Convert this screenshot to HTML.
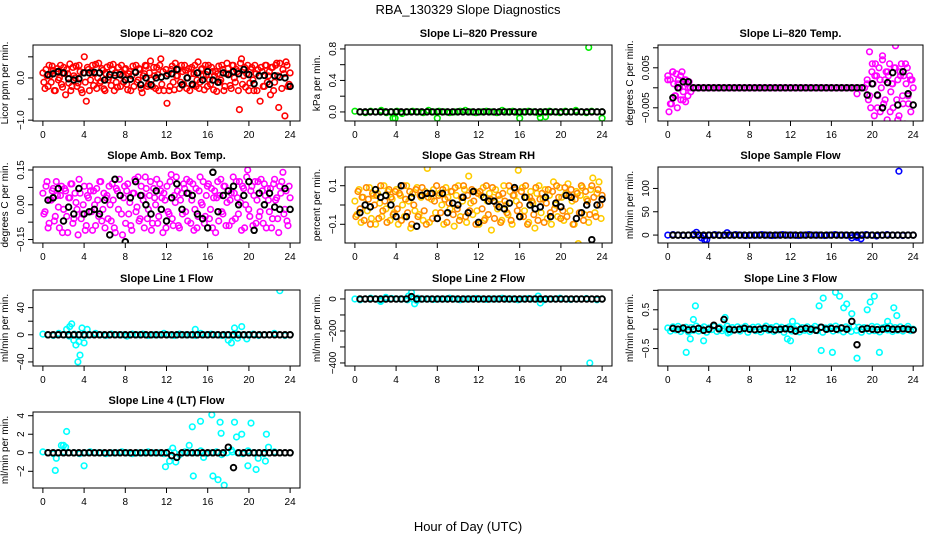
<!DOCTYPE html>
<html><head><meta charset="utf-8">
<style>
body{margin:0;background:#fff;}
svg{display:block;font-family:"Liberation Sans",sans-serif;}
</style></head>
<body>
<svg id="chart" width="936" height="540" viewBox="0 0 936 540">
<rect width="936" height="540" fill="#fff"/>
<text x="468" y="14" text-anchor="middle" font-size="13">RBA_130329  Slope Diagnostics</text>
<text x="468" y="531" text-anchor="middle" font-size="13">Hour of Day (UTC)</text>
</svg>
<script>
const xTicks = [0,4,8,12,16,20,24];
// CO2
const co2A = [0.12,-0.25,0.05,0.3,-0.1,0.18,-0.3,0.22,0.0,-0.15,0.25,-0.4,0.1,0.33,-0.2,0.05,0.28,-0.12,0.15,-0.35,0.5,-0.55,0.2,-0.05,0.3,0.1,-0.25,0.35,-0.08,0.18,-0.3,0.26,0.02,-0.18,0.32,0.12,-0.22,0.08,0.3,-0.1,0.22,-0.28,0.15,0.05,-0.2,0.3,-0.05,0.2,-0.35,0.1,0.28,-0.15,0.4,-0.2,0.05,0.25,-0.3,0.45,0.15,0.93,-0.6,-0.3,0.2,-0.1,0.35,0.05,-0.25,0.3,-0.15,0.18,0.0,-0.3,0.25,0.1,-0.2,0.38,-0.1,0.22,-0.28,0.08,0.3,-0.15,0.15,0.05,-0.32,0.28,-0.05,0.2,-0.2,0.35,0.1,-0.25,0.3,-0.1,0.15,-0.75,0.45,0.05,-0.22,0.3,-0.12,0.25,-0.3,0.1,0.2,-0.55,0.15,-0.2,0.3,0.05,-0.4,0.25,-0.1,0.35,-0.7,0.95,0.2,-0.9,0.3,-0.15];
const co2B = [-0.1,0.2,-0.2,0.05,0.28,-0.3,0.15,-0.05,0.3,-0.22,0.1,0.2,-0.12,-0.3,0.25,0.0,-0.2,0.3,-0.28,0.12,-0.1,0.25,-0.3,0.15,-0.18,0.32,0.0,-0.12,0.22,-0.26,0.1,-0.05,0.3,0.2,-0.3,-0.1,0.25,-0.2,0.05,0.2,-0.15,0.1,-0.3,0.28,0.15,-0.1,0.22,-0.25,0.05,0.3,-0.2,0.12,-0.05,0.25,-0.25,0.08,0.3,-0.15,-0.3,0.2,0.1,-0.2,0.28,-0.28,0.05,0.2,-0.1,0.15,0.3,-0.25,0.22,0.1,-0.18,0.3,-0.05,-0.25,0.2,0.05,0.3,-0.2,-0.05,0.25,-0.28,0.15,0.1,-0.1,0.3,-0.3,0.1,0.22,-0.18,0.3,0.0,0.2,-0.3,0.35,-0.15,0.25,0.1,-0.3,0.2,-0.05,0.3,-0.3,0.05,0.25,-0.2,0.3,-0.1,0.15,0.25,-0.3,0.3,0.05,0.35,-0.25,0.1,0.38,-0.2,0.12];
const co2Black = [0.08,0.1,0.15,0.12,-0.02,-0.05,-0.02,0.12,0.12,0.13,0.12,-0.05,0.08,0.06,0.08,-0.05,-0.03,0.13,-0.16,0.0,-0.16,0.0,0.02,0.05,0.1,0.2,-0.16,0.0,-0.15,0.12,-0.05,0.15,-0.05,-0.1,0.12,0.08,0.15,0.1,0.2,0.08,-0.14,0.05,0.06,-0.15,0.05,0.02,0.0,-0.2];
// Pressure
const presMain = [0.01,0.0,-0.01,0.01,0.0,0.02,-0.01,0.0,0.01,-0.02,0.0,0.01,0.0,-0.01,0.02,0.0,0.01,0.0,-0.01,0.0,0.01,0.02,0.0,-0.01,0.0,0.01,0.0,-0.01,0.02,0.0,0.01,-0.01,0.0,0.01,0.0,-0.02,0.0,0.01,0.0,-0.01,0.01,0.0,0.02,0.0,-0.01,0.01,0.0,0.0];
const presOutHours = [3.7,3.9,8,16,18,18.5,24,22.7];
const presOutVals = [-0.08,-0.08,-0.08,-0.08,-0.07,-0.06,-0.08,0.82];
const presBlack = [0,0,0,0,0,0,0,0,0,0,0,0,0,0,0,0,0,0,0,0,0,0,0,0,0,0,0,0,0,0,0,0,0,0,0,0,0,0,0,0,0,0,0,0,0,0,0,0];
// Li-820 Temp
const tempMain = [0.002,-0.004,0.004,-0.002,0.001,0.003,-0.003,0.002,0.0,-0.001,0,0,0,0,0,0,0,0,0,0,0,0,0,0,0,0,0,0,0,0,0,0,0,0,0,0,0,0,0,0,0,0,0,0,0,0,0,0,0,0,0,0,0,0,0,0,0,0,0,0,0,0,0,0,0,0,0,0,0,0,0,0,0,0,-0.0015,0,0,0,0.001,-0.002,0.006,0.003,-0.005,0.002,0.008,-0.003,0.004,-0.006,0.001,0.005,-0.008,0.003,-0.004,0.006,-0.002,0.002];
const tempEarly = [0.003,-0.006,0.002,-0.004,0.004,0.001,-0.002,0.0035,-0.005,0.002,0.0,-0.003,0.004,-0.001,0.002,-0.0035,0.001,-0.002,0.0015,0.0];
const tempLate = [0.002,-0.003,0.009,-0.005,0.004,0.001,-0.007,0.006,0.003,-0.002,0.005,-0.006,0.0,0.007,-0.004,0.002,0.004,-0.008,0.003,0.006,-0.001,0.001,-0.005,0.005,0.0105,-0.003,0.002,-0.007,0.004,0.006,-0.002,0.003,-0.009,0.001,0.005,-0.004,0.003,-0.006,0.002,0.0];
const tempBlack = [-0.0025,0.0,0.0015,0.0015,0,0,0,0,0,0,0,0,0,0,0,0,0,0,0,0,0,0,0,0,0,0,0,0,0,0,0,0,0,0,0,0,0,0,-0.0018,0.001,-0.0018,-0.005,0.0013,0.0038,-0.0043,0.004,-0.0015,-0.0043];
// Amb box temp
const ambA = [0.05,-0.03,0.1,-0.08,0.02,0.07,-0.05,0.04,-0.1,0.08,-0.02,0.06,-0.12,0.03,0.09,-0.06,0.01,-0.13,0.05,-0.04,0.08,-0.09,0.03,0.06,-0.11,0.0,0.07,-0.05,0.1,-0.02,-0.1,0.04,0.08,-0.07,0.02,-0.12,0.06,0.11,-0.04,0.03,-0.08,0.09,0.01,-0.11,0.05,-0.03,0.12,-0.06,0.04,-0.1,0.07,-0.02,0.1,-0.08,0.03,0.11,-0.05,0.06,-0.12,0.02,0.08,-0.04,0.13,-0.09,0.01,0.06,-0.1,0.05,0.09,-0.03,-0.07,0.1,0.02,-0.11,0.07,-0.05,0.12,0.0,-0.08,0.04,0.09,-0.02,-0.1,0.06,0.03,-0.07,0.11,-0.04,0.08,0.01,-0.09,0.05,0.12,-0.06,0.03,0.1,-0.11,0.07,0.0,0.15,-0.05,0.08,0.04,-0.08,0.1,-0.03,0.06,0.09,-0.1,0.02,0.07,-0.06,0.11,0.03,-0.12,0.05,0.14,-0.02,-0.07,0.08];
const ambB = [-0.04,0.08,-0.1,0.02,0.06,-0.07,0.1,-0.01,0.04,-0.12,0.07,-0.05,0.03,0.09,-0.08,0.05,-0.02,0.11,-0.06,0.0,-0.11,0.04,0.08,-0.03,0.06,-0.09,0.02,0.1,-0.07,0.05,0.03,-0.06,0.0,0.09,-0.1,0.07,-0.02,0.04,-0.13,0.08,0.06,-0.04,-0.09,0.05,0.11,-0.01,-0.07,0.08,0.02,0.12,-0.06,0.04,-0.11,0.07,0.0,-0.08,0.09,0.03,0.05,-0.1,-0.03,0.1,-0.06,0.04,0.12,-0.09,0.02,-0.04,0.07,0.11,0.05,-0.08,0.09,-0.02,-0.1,0.06,0.01,0.1,-0.05,0.08,-0.06,0.07,0.03,-0.12,0.1,0.04,-0.03,0.08,-0.09,0.06,0.02,-0.07,0.05,0.1,-0.04,0.01,0.08,-0.1,0.12,-0.02,0.06,-0.09,0.1,0.02,-0.05,0.11,-0.08,0.04,0.07,-0.03,-0.1,0.09,0.02,-0.06,0.08,0.1,-0.04,0.06,-0.09,0.03];
const ambBlack = [0.02,0.03,0.07,-0.07,-0.01,-0.04,0.07,-0.04,-0.03,-0.02,-0.04,0.02,-0.13,0.11,0.04,-0.16,0.03,0.1,0.04,0.0,-0.04,0.06,-0.02,-0.07,0.03,0.09,-0.02,0.05,0.04,-0.04,-0.06,-0.1,0.14,-0.03,0.04,0.06,0.08,0.0,0.04,0.1,-0.11,0.05,0.0,0.05,-0.01,-0.02,0.07,-0.02];
// Gas stream RH
const gasA = [0.02,-0.05,0.08,-0.09,0.04,0.0,-0.03,0.09,-0.07,0.05,-0.1,0.06,0.01,-0.06,0.1,-0.02,0.07,-0.08,0.03,-0.04,0.08,-0.1,0.05,0.0,-0.06,0.1,0.02,-0.12,0.06,-0.03,0.09,-0.05,0.04,-0.08,0.07,0.19,-0.09,0.03,0.08,-0.04,-0.07,0.06,0.0,-0.1,0.09,0.04,-0.02,0.07,-0.11,0.05,0.1,-0.06,0.02,0.08,-0.09,0.15,0.01,-0.05,0.07,-0.03,-0.1,0.05,0.09,-0.07,0.02,0.06,-0.13,0.04,0.08,-0.02,0.03,-0.08,0.1,0.0,-0.05,0.07,-0.1,0.05,0.02,0.18,-0.06,0.09,-0.03,0.04,-0.09,0.07,0.01,-0.12,0.06,0.1,-0.04,0.03,0.08,-0.07,0.05,-0.1,0.12,0.0,-0.06,0.09,0.04,-0.08,0.06,0.11,-0.03,0.02,-0.1,0.07,-0.2,0.05,0.09,-0.05,0.03,-0.09,0.08,0.14,-0.04,0.06,0.12,-0.07];
const gasB = [-0.06,0.07,-0.02,0.04,-0.08,0.09,0.03,-0.1,0.06,0.0,0.05,-0.07,0.1,-0.03,0.02,-0.09,0.08,0.04,-0.05,0.07,-0.02,0.06,-0.08,0.1,0.03,-0.04,0.07,-0.1,0.0,0.08,-0.06,0.05,0.09,-0.03,-0.1,0.04,0.06,-0.07,0.02,0.1,0.05,-0.04,0.08,0.03,-0.09,0.01,0.07,-0.05,0.09,-0.02,-0.08,0.04,0.1,-0.06,0.05,-0.03,0.08,0.02,-0.1,0.06,0.07,-0.02,-0.08,0.1,-0.05,0.03,0.09,-0.07,0.0,0.05,-0.09,0.06,0.02,-0.04,0.1,-0.08,0.05,0.08,-0.03,0.0,0.07,-0.06,0.1,-0.1,0.04,0.02,-0.05,0.09,-0.08,0.03,0.06,-0.09,0.01,0.08,-0.04,0.07,-0.02,0.1,0.04,-0.07,-0.03,0.09,-0.06,0.05,0.08,-0.1,0.03,0.06,-0.04,0.1,-0.08,0.07,0.02,-0.05,0.1,0.04,-0.06,0.08,0.0,0.05];
const gasBlack = [-0.04,0.0,-0.01,0.08,0.04,0.05,0.0,-0.06,0.1,-0.06,0.04,-0.11,0.05,0.06,0.06,-0.07,0.06,-0.04,0.01,0.0,0.04,-0.04,0.07,-0.09,0.04,0.02,0.02,-0.01,-0.02,0.01,0.09,-0.06,0.04,0.0,-0.02,-0.01,0.04,-0.06,0.01,-0.01,0.05,0.04,-0.07,-0.04,0.0,-0.18,0.0,0.03];
// Sample flow
const sampMain = [0,1,0,-1,0,2,0,-2,0,1,-1,0,0,1,0,-1,0,0,1,0,-1,0,1,0,0,-1,0,1,0,0,-1,0,1,0,0,-1,-2,0,1,0,-2,0,1,0,0,-1,0,0];
const sampOutHours = [2.8,3.3,3.6,3.8,5.8,18,18.5,18.9,22.6];
const sampOutVals = [6,-6,-10,-10,5,-6,-5,-8,137];
const sampBlack = [0,0,0,0,0,0,0,0,0,0,0,0,0,0,0,0,0,0,0,0,0,0,0,0,0,0,0,0,0,0,0,0,0,0,0,0,0,0,0,0,0,0,0,0,0,0,0,0];
// Line 1
const l1Main = [1,0,-1,2,0,-2,1,0,-1,0,2,0,-1,1,0,0,-2,1,0,1,-1,0,0,2,0,-1,1,0,0,-1,2,0,1,0,-1,0,-2,1,0,0,1,-1,0,0,2,0,-1,0];
const l1OutHours = [2.3,2.6,2.8,3.0,3.2,3.4,3.5,3.6,3.8,4.0,4.3,18.0,18.3,18.6,18.9,19.3,19.8,23.0,14.8];
const l1OutVals = [8,12,16,-8,-15,-40,-10,-30,10,-12,8,-8,-12,10,-5,12,-6,65,8];
const l1Black = [0,0,0,0,0,0,0,0,0,0,0,0,0,0,0,0,0,0,0,0,0,0,0,0,0,0,0,0,0,0,0,0,0,0,0,0,0,0,0,0,0,0,0,0,0,0,0,0];
// Line 2
const l2Main = [0,-5,0,5,0,-8,0,3,0,0,-5,0,5,0,0,-3,0,0,5,0,-5,0,0,3,0,-3,0,0,5,0,0,-5,0,3,0,0,-5,0,0,5,0,-3,0,0,3,0,-5,0];
const l2OutHours = [2.5,3,5.2,5.5,5.8,6.0,17.8,18.0,22.8];
const l2OutVals = [-15,10,18,40,-30,-10,18,-25,-400];
const l2Black = [0,0,0,0,0,0,0,0,0,0,15,0,0,0,0,0,0,0,0,0,0,0,0,0,0,0,0,0,0,0,0,0,0,0,0,0,0,0,0,0,0,0,0,0,0,0,0,0];
// Line 3
const l3Main = [0.03,-0.05,0.06,-0.02,0.07,-0.06,0.0,0.05,-0.07,0.04,-0.03,0.08,-0.05,0.02,0.06,-0.08,0.03,-0.01,0.07,-0.06,0.05,-0.04,0.01,0.08,-0.07,0.04,-0.02,0.06,-0.05,0.03,0.07,-0.08,0.0,0.05,-0.04,0.06,-0.07,0.02,0.08,-0.03,0.04,-0.06,0.07,-0.02,0.05,-0.08,0.03,0.06,-0.05,0.01,0.08,-0.07,0.04,-0.03,0.06,-0.06,0.02,0.07,-0.04,0.05,-0.08,0.03,0.0,0.06,-0.05,0.08,-0.02,0.04,-0.07,0.06,0.02,-0.06,0.07,-0.03,0.05,-0.08,0.04,0.01,-0.05,0.07,-0.04,0.06,-0.07,0.03,0.05,-0.02,0.08,-0.06,0.04,-0.03,0.06,-0.05,0.02,0.07,-0.04,0.0];
const l3OutHours = [1.8,2.2,2.5,2.7,3.5,5.6,5.9,11.7,12,12.2,14.8,15,15.2,16.1,16.4,16.8,17.2,17.5,18,18.5,19.5,19.8,20.2,20.7,21.5,22.1,22.4];
const l3OutVals = [-0.6,-0.25,0.25,0.6,-0.3,0.3,-0.1,-0.25,-0.3,0.2,0.6,-0.55,0.8,-0.6,0.95,0.85,0.55,0.65,0.4,-0.75,0.5,0.7,0.85,-0.6,0.2,0.55,0.35];
const l3Black = [0.02,0.0,0.03,-0.02,0.0,0.02,-0.03,0.0,0.1,0.01,0.25,0.0,-0.02,0.0,0.02,0.0,-0.01,0.0,0.02,0.0,-0.02,0.0,0.01,0.0,-0.05,0.0,0.02,0.0,-0.03,0.05,0.0,0.02,0.0,0.03,0.0,0.2,-0.4,0.0,0.02,0.0,-0.01,0.0,0.02,0.0,0.0,0.01,0.0,-0.02];
// Line 4
const l4Main = [0.1,0,-0.1,0,0.1,0,0,-0.1,0,0.1,0,0,-0.1,0,0,0.1,0,-0.1,0,0,0.1,0,0,-0.1,0.1,0,-0.2,0.1,0,0,0.2,-0.1,0,0.1,-0.2,0,0.1,0,-0.1,0.2,0,0,-0.1,0,0.1,0,0,0];
const l4OutHours = [1.2,1.3,1.8,2.0,2.2,2.3,4.0,11.9,12.3,12.6,12.9,14.2,14.5,14.6,15.3,15.6,16.4,16.5,17.0,17.2,17.3,17.6,18.3,18.6,18.8,19.3,19.9,20.2,20.7,20.9,21.6,21.7,21.9];
const l4OutVals = [-1.9,-0.6,0.8,0.8,0.6,2.3,-1.4,-1.5,-0.9,0.5,-1.0,0.8,2.8,-2.5,3.4,-0.5,4.1,-2.5,-2.9,3.3,2.1,-3.5,0.3,3.3,1.7,2.0,-1.4,3.2,-1.8,-0.6,-0.9,2.0,0.6];
const l4Black = [0,0,0,0,0,0,0,0,0,0,0,0,0,0,0,0,0,0,0,0,0,0,0,0,-0.3,-0.5,0,0,0,0,0,0,0,0,0,0.6,-1.6,0,0,0,0,0,0,0,0,0,0,0];

const NS = "http://www.w3.org/2000/svg";
const svg = document.getElementById('chart');
const colX = [33, 345, 658];
const colW = [267, 267, 265];
const rowY = [45, 167, 290, 412];
const boxH = 76;

function even(vals, h0, h1){ return vals.map((v,i)=>({h: h0 + i*(h1-h0)/(vals.length-1), v})); }
function paired(hours, vals){ return vals.map((v,i)=>({h: hours[i], v})); }

const panels = [
 {name:'co2', title:'Slope Li\u2013820 CO2', ylab:'Licor ppm per min.', c:0, r:0, ylim:[-1.02,0.78], ticks:[-1,-0.5,0,0.5], labels:{'-1':'\u22121.0','0':'0.0'},
  series:[{col:'#ff0000', pts:even(co2A,0,23.9)},{col:'#ff0000', pts:even(co2B,0.1,24)},{col:'#000', pts:even(co2Black,0.5,24)}]},
 {name:'pressure', title:'Slope Li\u2013820 Pressure', ylab:'kPa per min.', c:1, r:0, ylim:[-0.115,0.85], ticks:[0,0.2,0.4,0.6,0.8], labels:{'0':'0.0','0.4':'0.4','0.8':'0.8'},
  series:[{col:'#00ee00', pts:even(presMain,0,24)},{col:'#00ee00', pts:paired(presOutHours,presOutVals)},{col:'#000', pts:even(presBlack,0.5,24)}]},
 {name:'li820-temp', title:'Slope Li\u2013820 Temp.', ylab:'degrees C per min.', c:2, r:0, ylim:[-0.0083,0.0107], ticks:[-0.005,0,0.005,0.01], labels:{'-0.005':'\u22120.005','0.005':'0.005'},
  series:[{col:'#ff00ff', pts:even(tempMain,0,23.75)},{col:'#ff00ff', pts:even(tempEarly,0,2.2)},{col:'#ff00ff', pts:even(tempLate,19.5,24)},{col:'#000', pts:even(tempBlack,0.5,24)}]},
 {name:'amb-box-temp', title:'Slope Amb. Box Temp.', ylab:'degrees C per min.', c:0, r:1, ylim:[-0.165,0.163], ticks:[-0.15,-0.075,0,0.075,0.15], labels:{'-0.15':'\u22120.15','0':'0.00','0.15':'0.15'},
  series:[{col:'#ff00ff', pts:even(ambA,0,23.9)},{col:'#ff00ff', pts:even(ambB,0.1,24)},{col:'#000', pts:even(ambBlack,0.5,24)}]},
 {name:'gas-rh', title:'Slope Gas Stream RH', ylab:'percent per min.', c:1, r:1, ylim:[-0.197,0.197], ticks:[-0.1,0,0.1], labels:{'-0.1':'\u22120.1','0.1':'0.1'},
  series:[{col:'#ffcc00', pts:even(gasA,0,23.9)},{col:'#ff8800', pts:even(gasB,0.1,24)},{col:'#000', pts:even(gasBlack,0.5,24)}]},
 {name:'sample-flow', title:'Slope Sample Flow', ylab:'ml/min per min.', c:2, r:1, ylim:[-17,146], ticks:[0,50,100], labels:{'0':'0','50':'50','100':'100'},
  series:[{col:'#0000ff', pts:even(sampMain,0,24)},{col:'#0000ff', pts:paired(sampOutHours,sampOutVals)},{col:'#000', pts:even(sampBlack,0.5,24)}]},
 {name:'line1-flow', title:'Slope Line 1 Flow', ylab:'ml/min per min.', c:0, r:2, ylim:[-46,66], ticks:[-40,-20,0,20,40], labels:{'-40':'\u221240','0':'0','40':'40'},
  series:[{col:'#00ffff', pts:even(l1Main,0,24)},{col:'#00ffff', pts:paired(l1OutHours,l1OutVals)},{col:'#000', pts:even(l1Black,0.5,24)}]},
 {name:'line2-flow', title:'Slope Line 2 Flow', ylab:'ml/min per min.', c:1, r:2, ylim:[-419,56], ticks:[-400,-300,-200,-100,0], labels:{'-400':'\u2212400','-200':'\u2212200','0':'0'},
  series:[{col:'#00ffff', pts:even(l2Main,0,24)},{col:'#00ffff', pts:paired(l2OutHours,l2OutVals)},{col:'#000', pts:even(l2Black,0.5,24)}]},
 {name:'line3-flow', title:'Slope Line 3 Flow', ylab:'ml/min per min.', c:2, r:2, ylim:[-0.95,1.01], ticks:[-0.5,0,0.5,1], labels:{'-0.5':'\u22120.5','0.5':'0.5'},
  series:[{col:'#00ffff', pts:even(l3Main,0,24)},{col:'#00ffff', pts:paired(l3OutHours,l3OutVals)},{col:'#000', pts:even(l3Black,0.5,24)}]},
 {name:'line4-flow', title:'Slope Line 4 (LT) Flow', ylab:'ml/min per min.', c:0, r:3, ylim:[-3.8,4.4], ticks:[-2,0,2,4], labels:{'-2':'\u22122','0':'0','2':'2','4':'4'},
  series:[{col:'#00ffff', pts:even(l4Main,0,24)},{col:'#00ffff', pts:paired(l4OutHours,l4OutVals)},{col:'#000', pts:even(l4Black,0.5,24)}]}
];

function mk(tag, attrs, parent){
  const e = document.createElementNS(NS, tag);
  for (const k in attrs) e.setAttribute(k, attrs[k]);
  (parent||svg).appendChild(e);
  return e;
}

panels.forEach(p=>{
  const L = colX[p.c], W = colW[p.c], T = rowY[p.r], B = T + boxH, R = L + W;
  const xs = h => L + (h + 0.96) / 25.92 * W;
  const ys = v => B - (v - p.ylim[0]) / (p.ylim[1] - p.ylim[0]) * boxH;
  const g = mk('g', {});
  
  
  const clip = mk('clipPath', {id:'clip-' + p.name}, g);
  mk('rect', {x:L, y:T, width:W, height:boxH}, clip);
  const t = mk('text', {x:(L+R)/2, y:T-8, 'text-anchor':'middle', 'font-size':11, 'font-weight':'bold'}, g);
  t.textContent = p.title;
  
  
  const yl = mk('text', {transform:`translate(${L-25},${(T+B)/2}) rotate(-90)`, 'text-anchor':'middle', 'font-size':10}, g);
  yl.textContent = p.ylab;
  
  
  const marks = mk('g', {'clip-path':`url(#clip-${p.name})`, fill:'none'}, g);
  
  
  p.series.forEach(s=>{
    s.pts.forEach(pt=>{
      const c = mk('circle', {cx:xs(pt.h).toFixed(1), cy:ys(pt.v).toFixed(1), r:2.8, stroke:s.col, 'stroke-width': s.col==='#000'?1.9:1.6}, marks);
      
      
    });
  });
  const box = mk('rect', {x:L, y:T, width:W, height:boxH, fill:'none', stroke:'#000', 'stroke-width':1}, g);
  
  
  xTicks.forEach(h=>{
    const x = xs(h);
    mk('line', {x1:x, x2:x, y1:B, y2:B+5, stroke:'#000'}, g);
    const tl = mk('text', {x:x, y:B+17, 'text-anchor':'middle', 'font-size':10}, g);
    tl.textContent = String(h);
    
    
  });
  p.ticks.forEach(v=>{
    const y = ys(v);
    mk('line', {x1:L-5, x2:L, y1:y, y2:y, stroke:'#000'}, g);
    const lab = p.labels[String(v)];
    if (lab){
      const tl = mk('text', {transform:`translate(${L-9},${y}) rotate(-90)`, 'text-anchor':'middle', 'font-size':10}, g);
      tl.textContent = lab;
      
      
    }
  });
});
</script>
</body></html>
